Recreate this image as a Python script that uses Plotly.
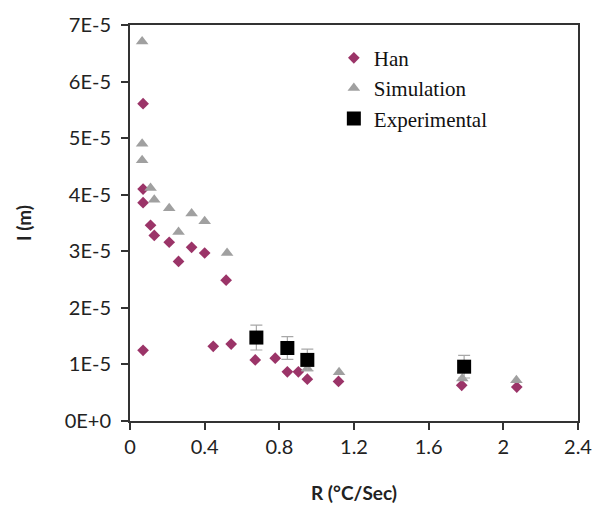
import plotly.graph_objects as go

# Han model
han_r = [0.07, 0.07, 0.07, 0.07, 0.11, 0.13, 0.21, 0.26, 0.33, 0.40, 0.515,
         0.446, 0.542, 0.671, 0.778, 0.843, 0.902, 0.95, 1.117, 1.777, 2.072]
han_l = [5.61e-5, 4.10e-5, 3.86e-5, 1.25e-5, 3.46e-5, 3.28e-5, 3.16e-5, 2.82e-5,
         3.07e-5, 2.97e-5, 2.49e-5, 1.32e-5, 1.36e-5, 1.08e-5, 1.11e-5, 0.87e-5,
         0.87e-5, 0.74e-5, 0.70e-5, 0.63e-5, 0.60e-5]

# Simulation
sim_r = [0.065, 0.065, 0.065, 0.11, 0.13, 0.21, 0.26, 0.33, 0.40, 0.52,
         0.95, 1.12, 1.78, 2.07]
sim_l = [6.71e-5, 4.90e-5, 4.61e-5, 4.12e-5, 3.91e-5, 3.76e-5, 3.34e-5, 3.67e-5,
         3.53e-5, 2.97e-5, 0.93e-5, 0.86e-5, 0.75e-5, 0.72e-5]

# Experimental with error bars
exp_r = [0.677, 0.843, 0.95, 1.79]
exp_l = [1.475e-5, 1.29e-5, 1.08e-5, 0.96e-5]
exp_err = [0.22e-5, 0.20e-5, 0.19e-5, 0.20e-5]

x_ticks = [0, 0.4, 0.8, 1.2, 1.6, 2.0, 2.4]
x_tick_text = ["0", "0.4", "0.8", "1.2", "1.6", "2", "2.4"]
y_ticks = [0, 1e-5, 2e-5, 3e-5, 4e-5, 5e-5, 6e-5, 7e-5]
y_tick_text = ["0E+0", "1E-5", "2E-5", "3E-5", "4E-5", "5E-5", "6E-5", "7E-5"]

fig = go.Figure()
fig.add_trace(go.Scatter(
    x=han_r, y=han_l, mode="markers", name="Han",
    marker=dict(symbol="diamond", size=9, color="#9b3468"),
))
fig.add_trace(go.Scatter(
    x=sim_r, y=sim_l, mode="markers", name="Simulation",
    marker=dict(symbol="triangle-up", size=11, color="#a0a0a0"),
))
fig.add_trace(go.Scatter(
    x=exp_r, y=exp_l, mode="markers", name="Experimental",
    marker=dict(symbol="square", size=14, color="#000000"),
    error_y=dict(type="data", array=exp_err, visible=True,
                 color="#a8a8a8", thickness=1.2, width=6),
))

axis_common = dict(
    showline=True, linecolor="#333333", linewidth=2, mirror=True,
    ticks="outside", ticklen=7, tickwidth=2, tickcolor="#333333",
    showgrid=False, zeroline=False,
    tickfont=dict(family="Lato", size=20, color="#222222"),
)

fig.update_xaxes(
    range=[0, 2.4], tickvals=x_ticks, ticktext=x_tick_text,
    title=dict(text="<b>R (°C/Sec)</b>", font=dict(family="Lato", size=19, color="#222222"),
               standoff=30),
    **axis_common,
)
fig.update_yaxes(
    range=[0, 7e-5], tickvals=y_ticks, ticktext=y_tick_text,
    ticklabelstandoff=6,
    title=dict(text="<b>I (m)</b>", font=dict(family="Lato", size=19, color="#222222"),
               standoff=28),
    **axis_common,
)

fig.update_layout(
    width=607, height=513,
    margin=dict(l=130, r=29, t=14, b=91),
    paper_bgcolor="white", plot_bgcolor="white",
    legend=dict(
        x=0.455, y=0.968, xanchor="left", yanchor="top",
        font=dict(family="Liberation Serif", size=21, color="#111111"),
        bgcolor="rgba(0,0,0,0)", tracegroupgap=0, itemsizing="trace",
    ),
)

fig.write_html("out.html")
